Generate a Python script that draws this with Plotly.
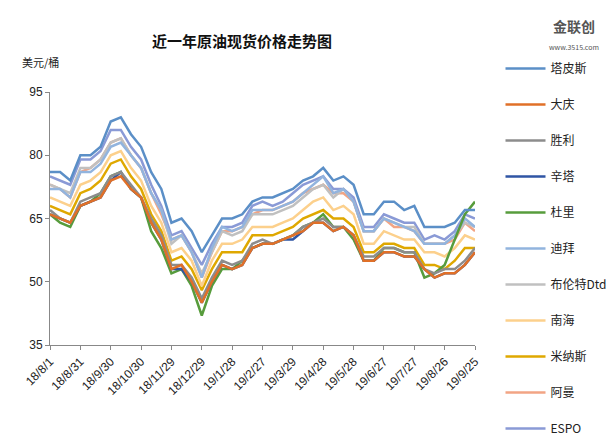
import plotly.graph_objects as go
import pandas as pd

dates = pd.date_range("2018-08-01", periods=43, freq="10D")

tapis = [76,76,74,80,80,82,88,89,85,82,76,72,64,65,62,57,61,65,65,66,69,70,70,71,72,74,75,77,74,75,73,66,66,69,69,67,68,63,63,63,64,67,67]
daqing = [66,65,64,68,69,70,74,75,72,70,64,60,53,54,50,45,50,54,53,54,58,59,59,60,61,62,64,64,62,63,61,55,55,57,57,56,56,53,51,52,52,54,57]
shengli = [67,65,64,69,70,71,75,76,73,70,65,61,54,54,51,46,51,55,54,55,59,60,59,60,61,63,64,65,63,63,61,56,56,58,58,57,57,53,52,53,53,55,58]
cinta = [66,65,64,68,69,70,74,76,72,70,64,60,53,53,50,45,50,54,53,54,58,59,59,60,60,62,64,64,62,63,61,55,55,57,57,56,56,53,51,52,52,54,57]
duri = [66,64,63,68,69,71,75,76,72,70,62,58,52,53,49,42,49,53,53,55,58,59,59,60,61,63,64,66,63,63,60,55,55,58,58,57,57,51,52,54,60,66,69]
dubai = [72,72,70,76,76,78,82,83,80,77,71,67,60,61,57,51,58,63,62,63,67,67,67,68,69,71,73,75,71,72,69,62,62,65,64,63,62,59,59,59,61,65,63]
brent = [73,72,71,77,77,79,83,84,80,77,71,67,59,61,57,52,57,62,61,62,66,66,66,67,68,70,72,73,70,72,69,62,62,65,64,63,63,59,59,59,61,64,63]
nanhai = [70,69,68,73,74,76,80,81,77,74,68,64,57,58,55,49,55,59,59,60,63,63,63,64,65,67,69,70,67,68,66,59,59,62,61,60,60,57,57,56,58,61,60]
minas = [68,67,66,71,72,74,78,79,75,72,66,62,55,56,53,48,53,57,57,57,61,61,61,62,63,65,66,67,65,65,63,57,57,59,59,58,58,54,54,53,55,58,58]
oman = [73,72,70,76,77,79,83,84,80,77,71,66,60,61,57,51,57,62,62,63,66,67,67,68,69,71,72,73,71,71,69,62,62,65,63,63,62,59,59,59,60,64,62]
espo = [75,74,73,79,79,81,86,86,82,79,73,68,61,62,58,54,59,63,63,64,68,69,68,69,71,73,74,75,72,72,70,63,63,66,65,64,64,60,61,60,62,66,65]

names = ["塔皮斯", "大庆", "胜利", "辛塔", "杜里", "迪拜", "布伦特Dtd", "南海", "米纳斯", "阿曼", "ESPO"]
series = [tapis, daqing, shengli, cinta, duri, dubai, brent, nanhai, minas, oman, espo]
colors = ["#5b8fc7", "#e07028", "#8c8c8c", "#2f55a4", "#579c3c", "#92b4de",
          "#c0c0c0", "#fcd08c", "#dfa800", "#f2a484", "#8a9ad6"]

tick_dates = dates[::3]
tick_text = [f"{d.year % 100}/{d.month}/{d.day}" for d in tick_dates]

fig = go.Figure()
# draw in reverse so the top series sit on top like the original
for i in reversed(range(len(names))):
    fig.add_trace(go.Scatter(x=dates, y=series[i], name=names[i], mode="lines",
                             line=dict(color=colors[i], width=2.5),
                             legendgroup=names[i], legendrank=i))

fig.update_layout(
    width=616, height=446,
    margin=dict(l=42, r=143, t=84, b=109),
    paper_bgcolor="white", plot_bgcolor="white",
    font=dict(family="Noto Sans CJK SC, Arial", size=12, color="#222"),
    title=dict(text="<b>近一年原油现货价格走势图</b>", x=0.38, xanchor="center",
               y=0.935, font=dict(size=15, color="#111")),
    legend=dict(x=1.06, y=1.15, xanchor="left", yanchor="top",
                tracegroupgap=17, font=dict(size=12), itemwidth=40,
                traceorder="grouped", maxheight=446),
    annotations=[
        dict(text="美元/桶", xref="paper", yref="paper", x=-0.07, y=1.16,
             showarrow=False, xanchor="left", font=dict(size=11)),
        dict(text="<b>金联创</b><br><span style='font-size:7px'>www.3515.com</span>",
             xref="paper", yref="paper", x=1.17, y=1.31,
             showarrow=False, xanchor="left", font=dict(size=14, color="#555")),
    ],
)
fig.update_xaxes(type="date", tickvals=tick_dates, ticktext=tick_text, tickangle=-45,
                 range=[dates[0], dates[-1]], showgrid=False, showline=True,
                 linecolor="#888", ticks="outside", ticklen=4, tickcolor="#888",
                 tickfont=dict(size=12, family="Arial"))
fig.update_yaxes(range=[35, 95], tick0=35, dtick=15, showgrid=False, showline=True,
                 linecolor="#888", ticks="outside", ticklen=4, tickcolor="#888",
                 tickfont=dict(size=12, family="Arial"), zeroline=False)

fig.write_html("out.html")
